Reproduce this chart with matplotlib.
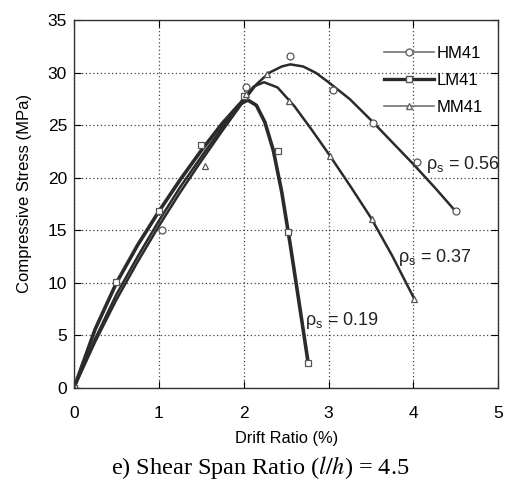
import matplotlib
matplotlib.use("Agg")
import matplotlib.pyplot as plt
from matplotlib.lines import Line2D

# Measured points (markers)
hm_x = [0.0, 1.04, 2.03, 2.55, 3.05, 3.53, 4.04, 4.5]
hm_y = [0.0, 15.0, 28.6, 31.6, 28.4, 25.2, 21.5, 16.8]
lm_x = [0.0, 0.5, 1.0, 1.5, 2.0, 2.4, 2.52, 2.76]
lm_y = [0.0, 10.1, 16.8, 23.1, 27.8, 22.6, 14.8, 2.4]
mm_x = [0.0, 1.54, 2.03, 2.28, 2.53, 3.02, 3.51, 4.01]
mm_y = [0.0, 21.1, 28.0, 29.9, 27.3, 22.1, 16.1, 8.5]

# Fitted curves
hm_cx = [0.0, 0.25, 0.5, 0.75, 1.0, 1.25, 1.5, 1.75, 2.0, 2.15, 2.3, 2.45, 2.55, 2.7, 2.85, 3.0, 3.25, 3.5, 3.75, 4.0, 4.25, 4.5]
hm_cy = [0.0, 4.4, 8.4, 12.0, 15.4, 18.6, 21.6, 24.5, 27.3, 28.9, 30.0, 30.6, 30.8, 30.6, 30.0, 29.1, 27.5, 25.5, 23.4, 21.3, 19.1, 16.8]
lm_cx = [0.0, 0.25, 0.5, 0.75, 1.0, 1.25, 1.5, 1.75, 1.95, 2.05, 2.15, 2.25, 2.35, 2.45, 2.55, 2.65, 2.76]
lm_cy = [0.0, 5.6, 10.0, 13.6, 16.8, 19.8, 22.6, 25.2, 27.0, 27.4, 26.9, 25.3, 22.6, 18.6, 13.6, 8.3, 2.4]
mm_cx = [0.0, 0.25, 0.5, 0.75, 1.0, 1.25, 1.5, 1.75, 2.0, 2.12, 2.24, 2.4, 2.6, 2.8, 3.0, 3.25, 3.5, 3.75, 4.01]
mm_cy = [0.0, 4.7, 8.9, 12.5, 15.9, 19.1, 22.0, 24.8, 27.6, 28.7, 29.1, 28.6, 26.8, 24.6, 22.3, 19.3, 16.2, 12.6, 8.5]

series = ["HM41", "LM41", "MM41"]
annot_text = [r"$\rho_s$ = 0.56", r"$\rho_s$ = 0.37", r"$\rho_s$ = 0.19"]
annot_x = [4.15, 3.82, 2.72]
annot_y = [21.3, 12.4, 6.4]

xticks = [0, 1, 2, 3, 4, 5]
yticks = [0, 5, 10, 15, 20, 25, 30, 35]

plt.rcParams['font.family'] = ['Liberation Sans', 'DejaVu Sans']
plt.rcParams['mathtext.fontset'] = 'custom'
plt.rcParams['mathtext.rm'] = 'Liberation Sans'
plt.rcParams['mathtext.it'] = 'Liberation Sans'

fig = plt.figure(figsize=(5.05, 4.91), dpi=100)
ax = fig.add_axes([0.1465, 0.2098, 0.840, 0.749])

c = '#2b2b2b'
ax.plot(hm_cx, hm_cy, color=c, lw=1.8, solid_capstyle='round')
ax.plot(lm_cx, lm_cy, color=c, lw=2.6, solid_capstyle='round')
ax.plot(mm_cx, mm_cy, color=c, lw=1.8, solid_capstyle='round')
mk = dict(ls='none', mfc='white', mec='#555555', mew=0.9, ms=5)
ax.plot(hm_x, hm_y, marker='o', **mk)
ax.plot(lm_x, lm_y, marker='s', **mk)
ax.plot(mm_x, mm_y, marker='^', **mk)

handles = [
    Line2D([], [], color='#666666', lw=1.1, marker='o', mfc='white', mec='#666666', ms=5),
    Line2D([], [], color=c, lw=2.4, marker='s', mfc='white', mec='#555555', ms=5),
    Line2D([], [], color='#666666', lw=1.1, marker='^', mfc='white', mec='#666666', ms=5),
]
ax.legend(handles, series, loc='upper right', bbox_to_anchor=(1.0, 0.972), frameon=False,
          fontsize=12, handlelength=3.0, handletextpad=0.2, labelspacing=0.72)

for t, x, y in zip(annot_text, annot_x, annot_y):
    ax.text(x, y, t, fontsize=13, color='#222222', va='center', ha='left')

ax.set_xlim(0, 5)
ax.set_ylim(0, 35)
ax.set_xticks(xticks)
ax.set_yticks(yticks)
ax.grid(True, ls=(0, (1, 2)), color='#444444', lw=0.9)
ax.tick_params(direction='in', top=True, right=True, labelsize=12.5, length=5, pad=13)
ax.tick_params(axis='y', pad=5)
for s in ax.spines.values():
    s.set_linewidth(1.0)
    s.set_color('#333333')

ax.set_ylabel("Compressive Stress (MPa)", fontsize=12)
ax.yaxis.set_label_coords(-0.10, 0.53)
ax.set_xlabel("Drift Ratio (%)", fontsize=11.8, labelpad=7)
fig.text(0.516, 0.048, r"e) Shear Span Ratio ($\mathit{l/h}$) = 4.5", fontsize=17.5,
         family='Liberation Serif', ha='center', va='center', math_fontfamily='stix')

fig.savefig("out.png", dpi=100)
